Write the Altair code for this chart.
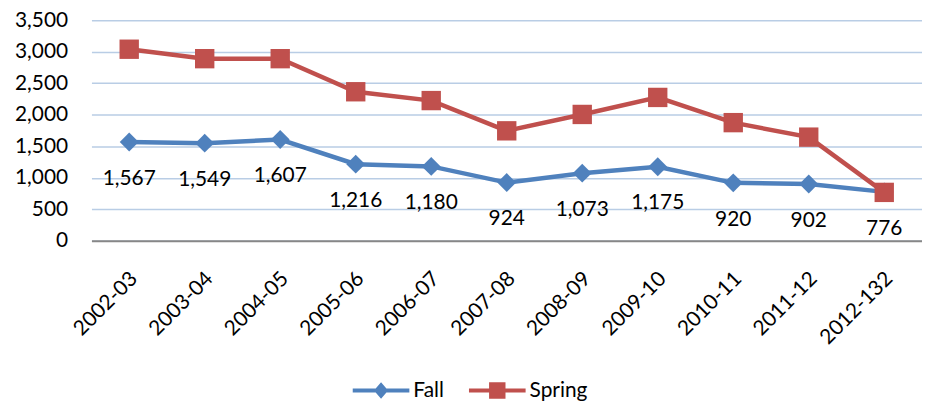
import altair as alt
import pandas as pd

categories = ["2002-03", "2003-04", "2004-05", "2005-06", "2006-07", "2007-08",
              "2008-09", "2009-10", "2010-11", "2011-12", "2012-132"]
fall = [1567, 1549, 1607, 1216, 1180, 924, 1073, 1175, 920, 902, 776]
spring = [3040, 2890, 2890, 2365, 2225, 1745, 2005, 2275, 1875, 1645, 768]
series_names = ["Fall", "Spring"]
series_colors = ["#4F81BD", "#C0504D"]
y_ticks = [0, 500, 1000, 1500, 2000, 2500, 3000, 3500]

rows = []
for name, vals in zip(series_names, [fall, spring]):
    for c, v in zip(categories, vals):
        rows.append({"year": c, "series": name, "value": v})
df = pd.DataFrame(rows)

FONT = "Lato"

x_enc = alt.X("year:N", sort=categories, scale=alt.Scale(type="point", padding=0.5),
              axis=alt.Axis(title=None, labelAngle=-45, labelAlign="right", labelBaseline="top",
                            labelPadding=27, labelOffset=-3, ticks=False, tickSize=0, domain=True,
                            domainColor="#878787", domainWidth=2, grid=False,
                            labelFont=FONT, labelFontSize=21, labelColor="#000000"))
y_enc = alt.Y("value:Q", scale=alt.Scale(domain=[0, 3500], nice=False),
              axis=alt.Axis(title=None, values=y_ticks, format=",.0f", ticks=False, tickSize=0,
                            domain=False, labelPadding=24, grid=True, gridColor="#B9CDE5",
                            gridWidth=1.5, labelFont=FONT, labelFontSize=21,
                            labelColor="#000000"))

cscale = alt.Scale(domain=series_names, range=series_colors)

fall_path = "M-1,-0.07L1,-0.07L1,0.07L-1,0.07Z M0,-0.29L0.25,0L0,0.29L-0.25,0Z"
spring_path = "M-1,-0.07L1,-0.07L1,0.07L-1,0.07Z M-0.29,-0.29L0.29,-0.29L0.29,0.29L-0.29,0.29Z"

leg_props = dict(title=None, orient="none", legendX=263, legendY=344, direction="horizontal",
                 labelFont=FONT, labelFontSize=21, labelColor="#000000", symbolSize=3249,
                 symbolStrokeWidth=0, labelOffset=4, columnPadding=25, padding=0)

color_leg = alt.Color("series:N", scale=cscale, legend=alt.Legend(**leg_props))
shape_leg = alt.Shape("series:N", scale=alt.Scale(domain=series_names, range=[fall_path, spring_path]),
                      legend=alt.Legend(**leg_props))

base = alt.Chart(df)

lines = base.mark_line(strokeWidth=4.5).encode(x=x_enc, y=y_enc, color=color_leg)

fall_pts = base.transform_filter(alt.datum.series == "Fall").mark_point(
    shape="diamond", filled=True, size=361, opacity=1).encode(x=x_enc, y=y_enc, color=color_leg)
spring_pts = base.transform_filter(alt.datum.series == "Spring").mark_point(
    shape="square", filled=True, size=380, opacity=1).encode(x=x_enc, y=y_enc, color=color_leg)

labels = base.transform_filter(alt.datum.series == "Fall").mark_text(
    dy=37, baseline="middle", align="center", font=FONT, fontSize=21, color="#000000").encode(
    x=x_enc, y=y_enc, text=alt.Text("value:Q", format=","))

legend_layer = base.mark_point(filled=True, opacity=1, size=0).encode(
    x=x_enc, y=y_enc, color=color_leg, shape=shape_leg)

chart = alt.layer(lines, fall_pts, spring_pts, labels, legend_layer).properties(
    width=836, height=222,
    padding={"left": 84, "top": 11, "right": 0, "bottom": 168},
    autosize=alt.AutoSizeParams(type="none"),
).configure_view(stroke=None)

chart.save("out.html", embed_options={"renderer": "svg", "actions": False})
